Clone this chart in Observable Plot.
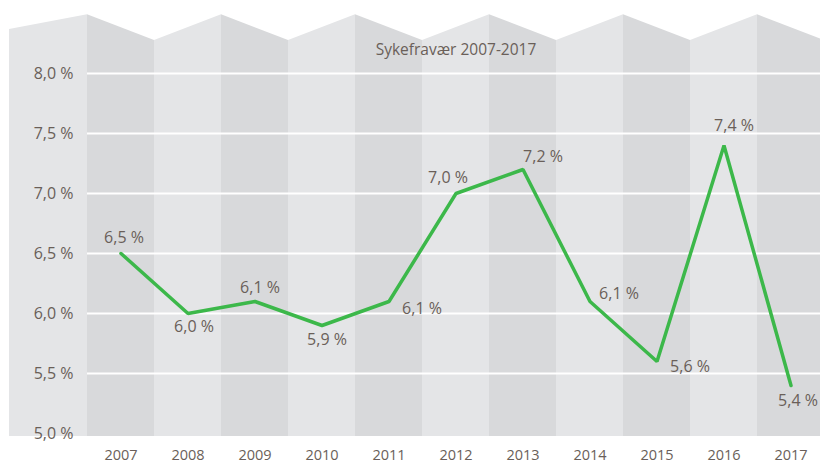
<!DOCTYPE html>
<html>
<head>
<meta charset="utf-8">
<script src="https://cdn.jsdelivr.net/npm/d3@7"></script>
<script src="https://cdn.jsdelivr.net/npm/@observablehq/plot@0.6"></script>
<style>
  html, body { margin: 0; padding: 0; background: #ffffff; }
  #chart svg { display: block; }
</style>
</head>
<body>
<div id="chart"></div>
<script>
// ---- data ----
const title = "Sykefravær 2007-2017";
const years = [2007, 2008, 2009, 2010, 2011, 2012, 2013, 2014, 2015, 2016, 2017];
const values = [6.5, 6.0, 6.1, 5.9, 6.1, 7.0, 7.2, 6.1, 5.6, 7.4, 5.4];
const yTicks = [5.0, 5.5, 6.0, 6.5, 7.0, 7.5, 8.0];
const gridTicks = [5.5, 6.0, 6.5, 7.0, 7.5, 8.0];

// ---- styling / layout helpers ----
const textColor = "#6a5f59";
const fmt = d => d.toFixed(1).replace(".", ",") + " %";
const labelOffset = {
  2007: [3, -16], 2008: [6, 13], 2009: [5, -14], 2010: [5, 14],
  2011: [33, 7], 2012: [-8, -16], 2013: [20, -13], 2014: [29, -8],
  2015: [33, 5], 2016: [10, -20], 2017: [7, 15]
};
const series = years.map((year, i) => ({year, value: values[i]}));

// background columns with zig-zag tops
const peakTop = 8.49, valleyTop = 8.275, bandBottom = 4.975;
const topAt = b => (Math.round(b - 2006.5) % 2 === 0 ? peakTop : valleyTop);
const bands = [];
years.forEach((year, i) => {
  const l = year - 0.5, r = year + 0.5;
  const tone = i % 2 === 0 ? "dark" : "light";
  bands.push({id: year, x: l, top: topAt(l), tone});
  bands.push({id: year, x: r, top: topAt(r), tone});
});
// left label panel
bands.push({id: 2005, x: 2005.336, top: 8.367, tone: "light"});
bands.push({id: 2005, x: 2006.5, top: peakTop, tone: "light"});

const chart = Plot.plot({
  width: 820,
  height: 465,
  marginLeft: 0,
  marginRight: 0,
  marginTop: 0,
  marginBottom: 0,
  style: {fontFamily: "'Open Sans', sans-serif", background: "transparent"},
  x: {type: "linear", domain: [2006.5, 2017.5], range: [87, 824], axis: null},
  y: {domain: [5, 8], range: [433, 73], axis: null},
  color: {domain: ["dark", "light"], range: ["#d8d9db", "#e4e5e7"]},
  marks: [
    Plot.areaY(bands, {x: "x", y1: bandBottom, y2: "top", z: "id", fill: d => d.tone, curve: "linear"}),
    Plot.ruleY(gridTicks, {x1: 2006.5, x2: 2017.5, stroke: "#ffffff", strokeWidth: 1.8}),
    Plot.text(yTicks, {x: 2006.5, y: d => d, text: fmt, dx: -14, textAnchor: "end", fill: textColor, fontSize: 16}),
    Plot.text(years, {x: d => d, y: 5, text: d => String(d), dy: 22, fill: textColor, fontSize: 14.5}),
    Plot.text([title], {x: 2012, y: 8, dy: -23, text: d => d, fill: textColor, fontSize: 15.5}),
    Plot.line(series, {x: "year", y: "value", stroke: "#3cb84a", strokeWidth: 3.5, strokeLinejoin: "miter", curve: "linear"}),
    ...series.map(d => Plot.text([d], {
      x: "year", y: "value", text: e => fmt(e.value),
      dx: labelOffset[d.year][0], dy: labelOffset[d.year][1],
      fill: textColor, fontSize: 16
    }))
  ]
});
document.getElementById("chart").appendChild(chart);
</script>
</body>
</html>
